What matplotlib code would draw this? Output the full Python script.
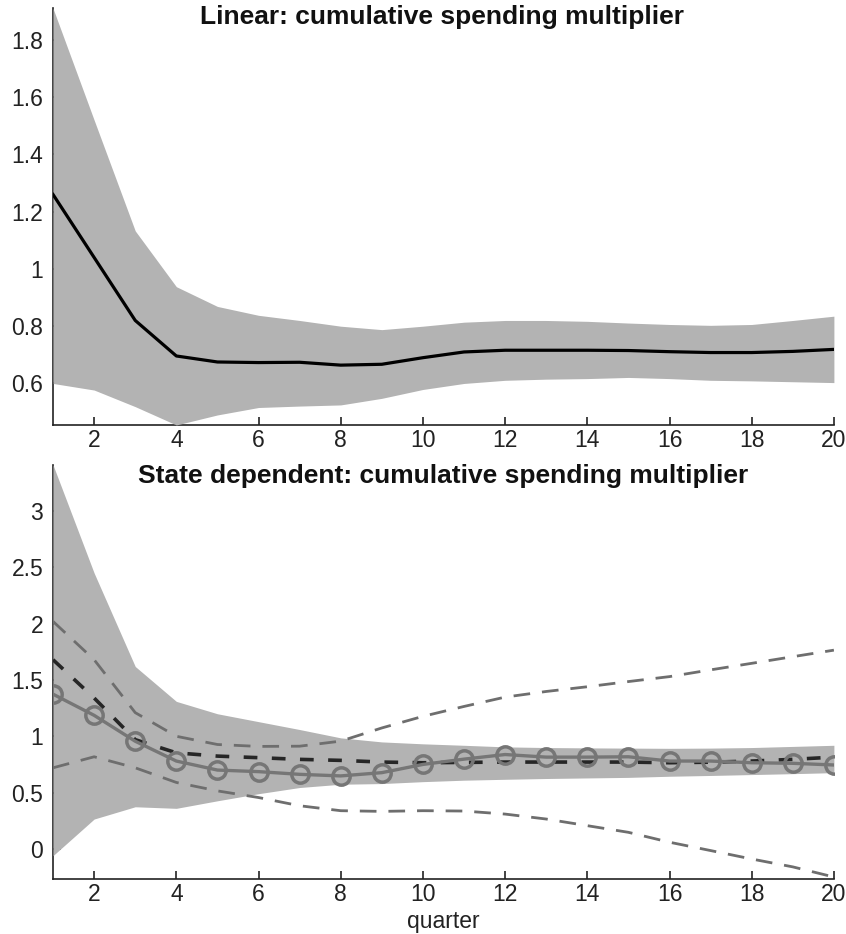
import matplotlib
matplotlib.use("Agg")
import matplotlib.pyplot as plt
from matplotlib.ticker import FormatStrFormatter

plt.rcParams["font.family"] = ["Liberation Sans", "DejaVu Sans"]

quarters = list(range(1, 21))

# linear model
linear_mean = [1.26, 1.04, 0.82, 0.696, 0.675, 0.673, 0.674, 0.664, 0.667, 0.69,
               0.71, 0.716, 0.716, 0.716, 0.715, 0.711, 0.708, 0.708, 0.712, 0.719]
linear_upper = [1.91, 1.52, 1.133, 0.938, 0.869, 0.838, 0.82, 0.80, 0.788, 0.80,
                0.814, 0.82, 0.82, 0.817, 0.811, 0.806, 0.803, 0.806, 0.82, 0.835]
linear_lower = [0.60, 0.577, 0.519, 0.455, 0.49, 0.516, 0.521, 0.525, 0.548, 0.579,
                0.60, 0.611, 0.615, 0.617, 0.621, 0.617, 0.611, 0.609, 0.606, 0.603]

# state dependent model
state_band_upper = [3.41, 2.45, 1.62, 1.31, 1.20, 1.13, 1.06, 0.986, 0.95, 0.933,
                    0.92, 0.906, 0.90, 0.897, 0.895, 0.893, 0.895, 0.90, 0.91, 0.92]
state_band_lower = [-0.06, 0.265, 0.374, 0.36, 0.427, 0.49, 0.545, 0.574, 0.58, 0.597,
                    0.61, 0.618, 0.625, 0.63, 0.635, 0.645, 0.652, 0.66, 0.668, 0.677]
state_circles = [1.374, 1.186, 0.956, 0.78, 0.70, 0.686, 0.662, 0.648, 0.677, 0.75,
                 0.797, 0.838, 0.815, 0.815, 0.818, 0.78, 0.78, 0.765, 0.76, 0.745]
state_dark = [1.68, 1.34, 0.97, 0.853, 0.824, 0.81, 0.795, 0.786, 0.771, 0.765,
              0.768, 0.771, 0.771, 0.771, 0.771, 0.765, 0.77, 0.78, 0.795, 0.815]
state_dash_upper = [2.02, 1.68, 1.21, 1.0, 0.927, 0.91, 0.912, 0.957, 1.074, 1.177,
                    1.265, 1.348, 1.398, 1.44, 1.486, 1.53, 1.59, 1.648, 1.707, 1.765]
state_dash_lower = [0.72, 0.818, 0.72, 0.59, 0.515, 0.456, 0.383, 0.339, 0.333, 0.339,
                    0.336, 0.309, 0.265, 0.206, 0.147, 0.059, -0.015, -0.09, -0.16, -0.25]

x_ticks = [2, 4, 6, 8, 10, 12, 14, 16, 18, 20]
top_yticks = [0.6, 0.8, 1.0, 1.2, 1.4, 1.6, 1.8]
bottom_yticks = [0, 0.5, 1, 1.5, 2, 2.5, 3]

BAND = "#b3b3b3"
TICK_FS = 16.5


def style_axes(ax, ylim, yticks):
    ax.set_xlim(1, 20)
    ax.set_ylim(*ylim)
    ax.set_xticks(x_ticks)
    ax.set_yticks(yticks)
    ax.yaxis.set_major_formatter(FormatStrFormatter("%g"))
    ax.spines["top"].set_visible(False)
    ax.spines["right"].set_visible(False)
    for side in ("left", "bottom"):
        ax.spines[side].set_linewidth(1.2)
        ax.spines[side].set_color("#222222")
        ax.spines[side].set_zorder(0.5)
    ax.set_axisbelow(True)
    ax.tick_params(direction="in", length=6, width=1.2, color="#222222",
                   labelsize=TICK_FS, labelcolor="#222222")
    ax.tick_params(axis="x", pad=3)
    ax.tick_params(axis="y", pad=7)
    ax.patch.set_alpha(0)


fig = plt.figure(figsize=(8.46, 9.34), dpi=100)

ax1 = fig.add_axes([0.0627, 0.545, 0.923, 0.446])
ax1.fill_between(quarters, linear_lower, linear_upper, color=BAND, lw=0, zorder=1)
ax1.plot(quarters, linear_mean, color="black", lw=2.3, zorder=3)
style_axes(ax1, (0.455, 1.91), top_yticks)

ax2 = fig.add_axes([0.0627, 0.0592, 0.923, 0.443])
ax2.fill_between(quarters, state_band_lower, state_band_upper, color=BAND, lw=0, zorder=1)
ax2.plot(quarters, state_dash_upper, color="#6e6e6e", lw=2.0, dashes=(6, 4.3), zorder=2)
ax2.plot(quarters, state_dash_lower, color="#6e6e6e", lw=2.0, dashes=(6, 4.3), zorder=2)
ax2.plot(quarters, state_dark, color="#262626", lw=2.6, dashes=(3.8, 4.0), zorder=3)
ax2.plot(quarters, state_circles, color="#767676", lw=2.4, marker="o", markersize=12.5,
         markerfacecolor="none", markeredgewidth=2.5, markeredgecolor="#767676", zorder=4)
style_axes(ax2, (-0.265, 3.41), bottom_yticks)

fig.text(443 / 846, 1 / 934, "quarter", ha="center", va="bottom",
         fontsize=16.5, color="#222222")
fig.text(441.5 / 846, 1 - 17 / 934, "Linear: cumulative spending multiplier",
         ha="center", va="center", fontsize=19, fontweight="bold", color="#111111")
fig.text(443 / 846, 1 - 476 / 934, "State dependent: cumulative spending multiplier",
         ha="center", va="center", fontsize=19, fontweight="bold", color="#111111")

fig.savefig("out.png", dpi=100)
